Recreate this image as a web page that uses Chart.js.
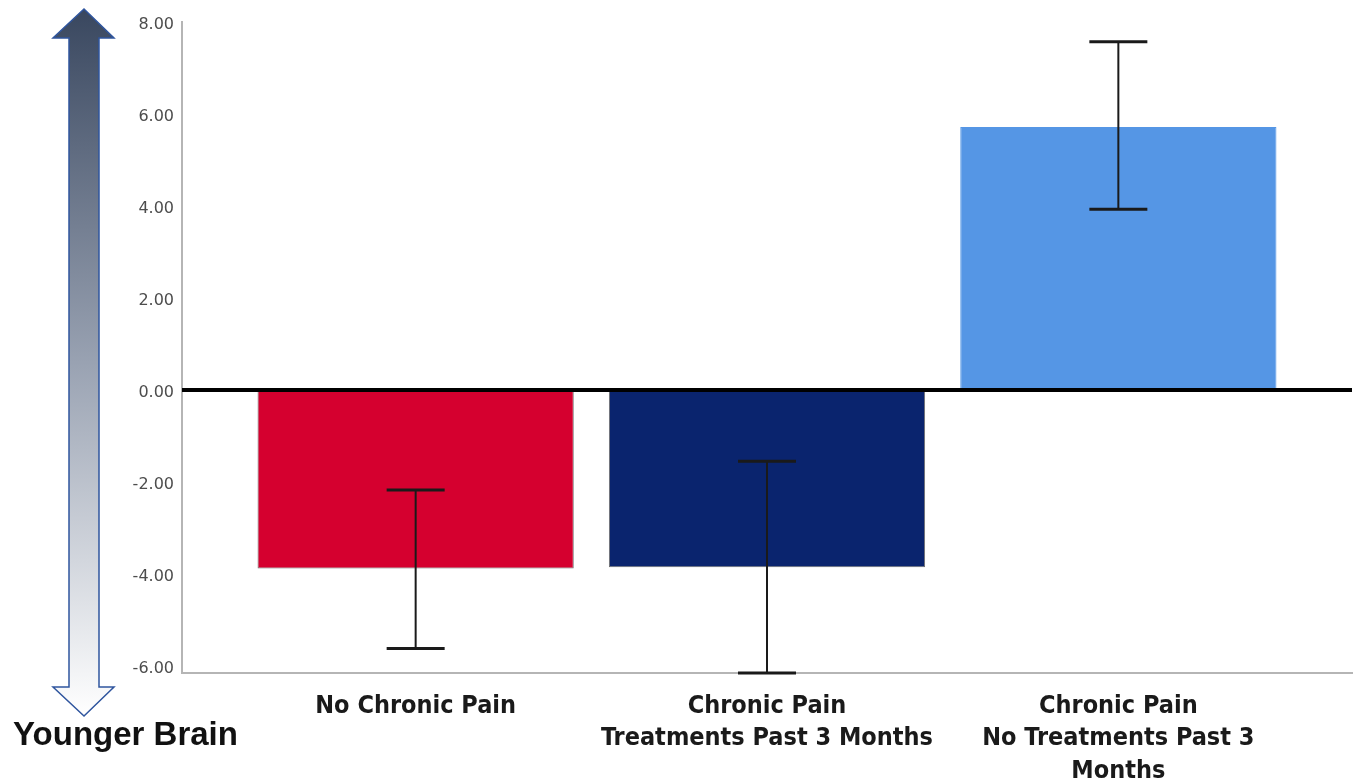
<!DOCTYPE html>
<html>
<head>
<meta charset="utf-8">
<script src="https://cdn.jsdelivr.net/npm/chart.js@4"></script>
<style>
  body { margin: 0; background: #fff; }
  #wrap { position: relative; width: 1360px; height: 784px; }
  #chart { position: absolute; left: 0; top: 0; }
  #side { position: absolute; left: 0; top: 0; }
</style>
</head>
<body>
<div id="wrap">
  <canvas id="chart" width="1360" height="784"></canvas>
  <svg id="side" width="260" height="784">
    <defs>
      <linearGradient id="arrowFill" x1="0" y1="9" x2="0" y2="716" gradientUnits="userSpaceOnUse">
        <stop offset="0" stop-color="#39475f"/>
        <stop offset="0.5" stop-color="#99a2b2"/>
        <stop offset="1" stop-color="#ffffff"/>
      </linearGradient>
    </defs>
    <polygon points="84,9 53,38 69,38 69,687 53,687 84,716 114,687 99,687 99,38 114,38"
             fill="url(#arrowFill)" stroke="#2f559e" stroke-width="1.5"/>
    <text x="13" y="745" font-family="Liberation Sans, Arial, sans-serif" font-weight="bold" font-size="33" fill="#111">Younger Brain</text>
  </svg>
</div>
<script>
// values
const categories = [
  "No Chronic Pain",
  ["Chronic Pain", "Treatments Past 3 Months"],
  ["Chronic Pain", "No Treatments Past 3", "Months"]
];
const means = [-3.88, -3.85, 5.72];
const errLow = [-5.62, -6.15, 3.93];
const errHigh = [-2.17, -1.55, 7.57];
const barColors = ["#d5002f", "#0a246e", "#5596e5"];
const yTicks = [-6, -4, -2, 0, 2, 4, 6, 8];

const points = means.map((v, i) => ({ x: i, y: v }));

// thick black line at zero + error bars
const extras = {
  id: "extras",
  afterDatasetsDraw(chart) {
    const { ctx, chartArea, scales } = chart;
    const x = scales.x, y = scales.y;
    const y0 = y.getPixelForValue(0);
    ctx.save();
    ctx.strokeStyle = "#000";
    ctx.lineWidth = 4;
    ctx.beginPath();
    ctx.moveTo(chartArea.left, y0);
    ctx.lineTo(chartArea.right, y0);
    ctx.stroke();

    ctx.strokeStyle = "#1a1a1a";
    for (let i = 0; i < means.length; i++) {
      const cx = x.getPixelForValue(i);
      const yl = y.getPixelForValue(errLow[i]);
      const yh = y.getPixelForValue(errHigh[i]);
      ctx.lineWidth = 2;
      ctx.beginPath();
      ctx.moveTo(cx, yl);
      ctx.lineTo(cx, yh);
      ctx.stroke();
      ctx.lineWidth = 3;
      ctx.beginPath();
      ctx.moveTo(cx - 29, yl); ctx.lineTo(cx + 29, yl);
      ctx.moveTo(cx - 29, yh); ctx.lineTo(cx + 29, yh);
      ctx.stroke();
    }
    ctx.restore();
  }
};

new Chart(document.getElementById("chart"), {
  type: "bar",
  data: {
    datasets: [{
      data: points,
      backgroundColor: barColors,
      borderColor: ["rgba(50,50,50,0.7)", "rgba(50,50,50,0.7)", "rgba(85,150,229,1)"],
      borderWidth: 1,
      borderSkipped: false,
      categoryPercentage: 1,
      barPercentage: 0.9
    }]
  },
  options: {
    responsive: false,
    animation: false,
    layout: { padding: { top: 22, right: 8, bottom: 0, left: 0 } },
    plugins: { legend: { display: false }, tooltip: { enabled: false } },
    scales: {
      x: {
        type: "linear",
        offset: false,
        min: -0.665,
        max: 2.665,
        grid: { display: false, drawTicks: false },
        border: { display: true, color: "#b5b5b5", width: 2 },
        afterBuildTicks: s => { s.ticks = categories.map((c, i) => ({ value: i })); },
        afterFit: s => { s.height = 111; },
        ticks: {
          autoSkip: false,
          maxRotation: 0,
          padding: 17,
          color: "#1a1a1a",
          font: { family: "'Liberation Sans Narrow', 'DejaVu Sans Condensed', sans-serif", size: 25, weight: "bold", lineHeight: 1.3 },
          callback: v => categories[v]
        }
      },
      y: {
        min: -6.15,
        max: 8,
        grid: { display: false, drawTicks: false },
        border: { display: true, color: "#b5b5b5", width: 2 },
        afterBuildTicks: s => { s.ticks = yTicks.map(v => ({ value: v })); },
        afterFit: s => { s.width = 182; },
        ticks: {
          padding: 8,
          labelOffset: 3,
          color: "#4d4d4d",
          font: { family: "'DejaVu Sans', sans-serif", size: 16 },
          callback: v => Number(v).toFixed(2)
        }
      }
    }
  },
  plugins: [extras]
});
</script>
</body>
</html>
